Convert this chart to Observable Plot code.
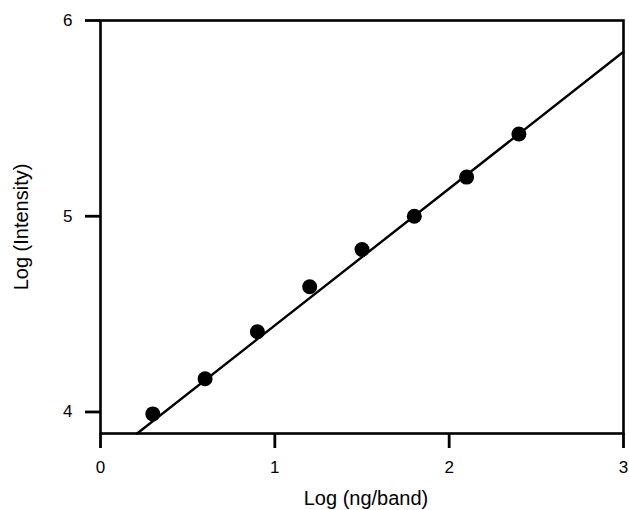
<!DOCTYPE html>
<html>
<head>
<meta charset="utf-8">
<script src="https://cdn.jsdelivr.net/npm/d3@7"></script>
<script src="https://cdn.jsdelivr.net/npm/@observablehq/plot@0.6"></script>
<style>
body { margin: 0; background: #fff; }
svg { font-family: "Liberation Sans", Arial, sans-serif; }
</style>
</head>
<body>
<div id="chart"></div>
<script>
const logNg = [0.3, 0.6, 0.9, 1.2, 1.5, 1.8, 2.1, 2.4];
const logIntensity = [3.99, 4.17, 4.41, 4.64, 4.83, 5.00, 5.20, 5.42];
const fitX = [0.21, 3.0];
const fitY = [3.89, 5.84];
const xTicks = [0, 1, 2, 3];
const yTicks = [4, 5, 6];

const points = logNg.map((x, i) => ({x, y: logIntensity[i]}));
const fit = fitX.map((x, i) => ({x, y: fitY[i]}));

const chart = Plot.plot({
  width: 629,
  height: 510,
  marginLeft: 100,
  marginRight: 6,
  marginTop: 20,
  marginBottom: 77,
  style: {fontFamily: "Liberation Sans, Arial, sans-serif", fontSize: "18px", color: "#000", background: "#fff"},
  x: {domain: [0, 3], ticks: xTicks, label: null},
  y: {domain: [3.89, 6], ticks: yTicks, label: null},
  marks: [
    Plot.line(fit, {x: "x", y: "y", stroke: "#000", strokeWidth: 2.4}),
    Plot.dot(points, {x: "x", y: "y", r: 7.5, fill: "#000", stroke: "none"}),
    Plot.frame({stroke: "#000", strokeWidth: 2.6}),
    Plot.axisX({ticks: xTicks, tickSize: 15, tickPadding: 12, strokeWidth: 2.8, tickFormat: d => String(d), fontSize: 17, label: null}),
    Plot.axisY({ticks: yTicks, tickSize: 15, tickPadding: 13, strokeWidth: 2.8, tickFormat: d => String(d), fontSize: 17, label: null}),
    Plot.text(["Log (ng/band)"], {frameAnchor: "bottom", textAnchor: "middle", lineAnchor: "middle", dy: 65, dx: 4, fontSize: 20, text: d => d}),
    Plot.text(["Log (Intensity)"], {frameAnchor: "left", textAnchor: "middle", lineAnchor: "middle", dx: -79, rotate: -90, fontSize: 20, text: d => d})
  ]
});
document.getElementById("chart").appendChild(chart);
</script>
</body>
</html>
